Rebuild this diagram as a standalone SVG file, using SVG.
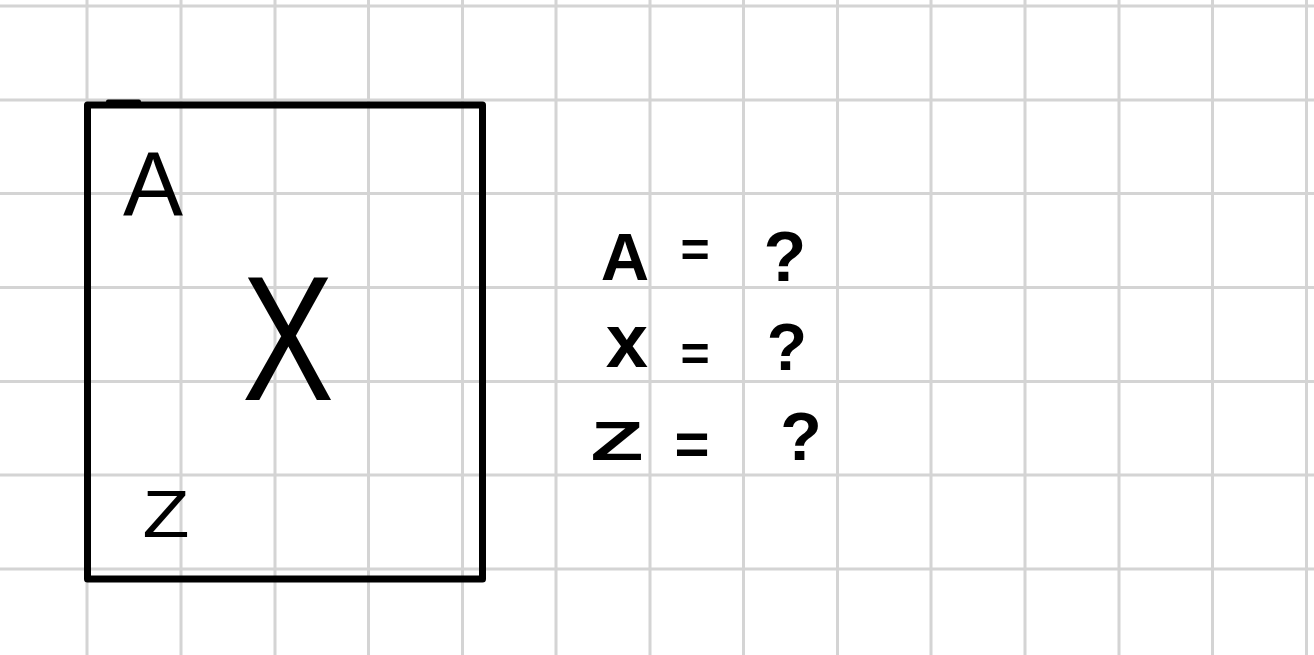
<svg xmlns="http://www.w3.org/2000/svg" width="1314" height="655" viewBox="0 0 1314 655">
<style>
.grid line{stroke:#d4d4d4;stroke-width:3}
.box{fill:none;stroke:#000;stroke-width:7;stroke-linejoin:round}
.in{font-family:"Liberation Sans",Arial,sans-serif;fill:#000;text-anchor:middle}
.eq{font-family:"Liberation Sans",Arial,sans-serif;font-weight:bold;fill:#000;text-anchor:middle}
</style>
<rect width="1314" height="655" fill="#fff"/>
<g class="grid">
<line x1="87" y1="0" x2="87" y2="655"/>
<line x1="181" y1="0" x2="181" y2="655"/>
<line x1="275" y1="0" x2="275" y2="655"/>
<line x1="368.5" y1="0" x2="368.5" y2="655"/>
<line x1="462.5" y1="0" x2="462.5" y2="655"/>
<line x1="556" y1="0" x2="556" y2="655"/>
<line x1="650" y1="0" x2="650" y2="655"/>
<line x1="743.5" y1="0" x2="743.5" y2="655"/>
<line x1="837.5" y1="0" x2="837.5" y2="655"/>
<line x1="931" y1="0" x2="931" y2="655"/>
<line x1="1025" y1="0" x2="1025" y2="655"/>
<line x1="1119" y1="0" x2="1119" y2="655"/>
<line x1="1212.5" y1="0" x2="1212.5" y2="655"/>
<line x1="1306.5" y1="0" x2="1306.5" y2="655"/>
<line x1="0" y1="6" x2="1314" y2="6"/>
<line x1="0" y1="100" x2="1314" y2="100"/>
<line x1="0" y1="193.5" x2="1314" y2="193.5"/>
<line x1="0" y1="287.5" x2="1314" y2="287.5"/>
<line x1="0" y1="381.5" x2="1314" y2="381.5"/>
<line x1="0" y1="475" x2="1314" y2="475"/>
<line x1="0" y1="569" x2="1314" y2="569"/>
</g>
<g id="box">
<rect class="box" x="87.5" y="105" width="395" height="474"/>
<line x1="108" y1="101.5" x2="139" y2="101.5" stroke="#000" stroke-width="4" stroke-linecap="round"/>
<text class="in" x="153" y="215" font-size="90">A</text>
<text class="in" x="288" y="400" font-size="178" font-family="Lato,'Liberation Sans',sans-serif" font-weight="300" textLength="92" lengthAdjust="spacingAndGlyphs">X</text>
<text class="in" x="166" y="537" font-size="66" textLength="47" lengthAdjust="spacingAndGlyphs">Z</text>
</g>
<g id="equations">
<text class="eq" x="625" y="280" font-size="67">A</text>
<text class="eq" x="695" y="267" font-size="50">=</text>
<text class="eq" x="785" y="281" font-size="70">?</text>
<text class="eq" x="627" y="367" font-size="76">x</text>
<text class="eq" x="695" y="371" font-size="50">=</text>
<text class="eq" x="787" y="370" font-size="66">?</text>
<text class="eq" x="617" y="460" font-size="56" textLength="53" lengthAdjust="spacingAndGlyphs">Z</text>
<text class="eq" x="692" y="464" font-size="60">=</text>
<text class="eq" x="801" y="460" font-size="68">?</text>
</g>
</svg>
